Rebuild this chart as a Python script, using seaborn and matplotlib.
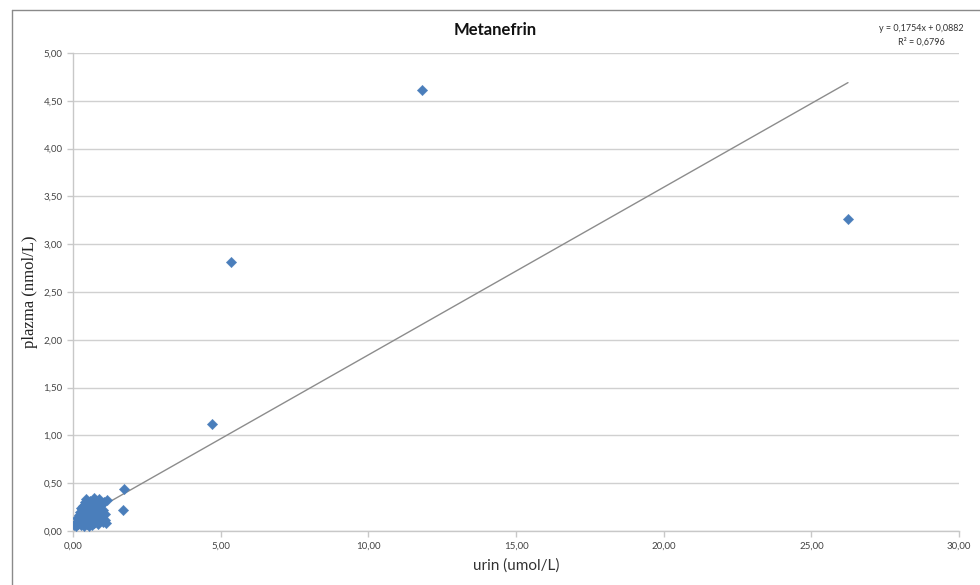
import matplotlib
matplotlib.use("Agg")
import matplotlib.pyplot as plt
from matplotlib.ticker import FuncFormatter, MultipleLocator
from matplotlib.lines import Line2D
import seaborn as sns
import pandas as pd
import numpy as np

# urin (umol/L) vs plazma (nmol/L)
urin = [0.05, 0.10, 0.12, 0.15, 0.18, 0.20, 0.22, 0.25, 0.27, 0.28, 0.30, 0.32, 0.33, 0.35,
        0.36, 0.38, 0.40, 0.41, 0.42, 0.45, 0.46, 0.48, 0.50, 0.51, 0.53, 0.55, 0.56, 0.58,
        0.60, 0.62, 0.63, 0.65, 0.67, 0.68, 0.70, 0.72, 0.73, 0.75, 0.76, 0.78, 0.80, 0.82,
        0.84, 0.86, 0.88, 0.90, 0.92, 0.95, 0.97, 1.00, 1.02, 1.05, 1.08, 1.10, 1.15, 1.12,
        0.28, 0.20, 0.15, 0.44, 0.58, 0.38, 0.52, 0.64, 0.85,
        1.73, 1.69, 4.71, 5.36, 11.83, 26.24]
plazma = [0.06, 0.05, 0.09, 0.14, 0.07, 0.17, 0.11, 0.20, 0.06, 0.13, 0.23, 0.09, 0.18, 0.26,
          0.05, 0.15, 0.21, 0.30, 0.11, 0.24, 0.07, 0.17, 0.28, 0.13, 0.05, 0.21, 0.26, 0.09,
          0.16, 0.23, 0.06, 0.12, 0.19, 0.27, 0.35, 0.08, 0.15, 0.22, 0.30, 0.11, 0.18, 0.25,
          0.07, 0.14, 0.33, 0.20, 0.10, 0.27, 0.16, 0.22, 0.09, 0.30, 0.18, 0.12, 0.32, 0.08,
          0.24, 0.12, 0.09, 0.33, 0.31, 0.09, 0.19, 0.10, 0.28,
          0.44, 0.22, 1.12, 2.81, 4.61, 3.26]

# trendline from the chart label
slope = 0.1754
intercept = 0.0882
r2 = 0.6796

df = pd.DataFrame({"urin": urin, "plazma": plazma})
x_line = np.array([min(urin), max(urin)])
trend = pd.DataFrame({"x": x_line, "y": slope * x_line + intercept})

sns.set_style("white")
plt.rcParams['font.family'] = ['Lato', 'DejaVu Sans']

fig = plt.figure(figsize=(9.8, 5.85), dpi=100)
ax = fig.add_axes([0.0745, 0.0923, 0.9041, 0.817])

sns.lineplot(data=trend, x="x", y="y", ax=ax, color="#8c8c8c", linewidth=1.0, zorder=2)
sns.scatterplot(data=df, x="urin", y="plazma", ax=ax, marker="D", s=28,
                color="#4a7ebb", edgecolor="#4a7ebb", linewidth=0.3, zorder=3)

ax.set_xlim(0, 30)
ax.set_ylim(0, 5)
ax.xaxis.set_major_locator(MultipleLocator(5))
ax.yaxis.set_major_locator(MultipleLocator(0.5))
comma = FuncFormatter(lambda v, p: f"{v:.2f}".replace(".", ","))
ax.xaxis.set_major_formatter(comma)
ax.yaxis.set_major_formatter(comma)

ax.yaxis.grid(True, color="#d0d0d0", linewidth=1.0)
ax.xaxis.grid(False)
ax.set_axisbelow(True)
for s in ["top", "right"]:
    ax.spines[s].set_visible(False)
for s in ["left", "bottom"]:
    ax.spines[s].set_color("#c8c8c8")
    ax.spines[s].set_linewidth(1.0)
ax.tick_params(axis="both", which="major", length=4, width=1, color="#c8c8c8",
               labelsize=7, labelcolor="#444444", direction="out", left=True, bottom=True)

ax.set_xlabel("urin (umol/L)", fontsize=11, color="#333333", labelpad=6)
ax.set_ylabel("plazma (nmol/L)", fontsize=12, color="#222222", family="Liberation Serif", labelpad=4)

fig.text(0.505, 0.948, "Metanefrin", ha="center", va="center", fontsize=12, fontweight="bold",
         color="#111111")
fig.text(0.94, 0.951, "y = 0,1754x + 0,0882", ha="center", va="center", fontsize=6.5, color="#333333")
fig.text(0.94, 0.929, f"R\u00b2 = {r2:.4f}".replace(".", ","), ha="center", va="center",
         fontsize=6.5, color="#333333")

# outer chart border (left and top)
fig.add_artist(Line2D([0.012, 0.012], [0.0, 0.983], color="#8a8a8a", linewidth=1.0))
fig.add_artist(Line2D([0.012, 1.0], [0.983, 0.983], color="#8a8a8a", linewidth=1.0))

fig.savefig("out.png", dpi=100)
